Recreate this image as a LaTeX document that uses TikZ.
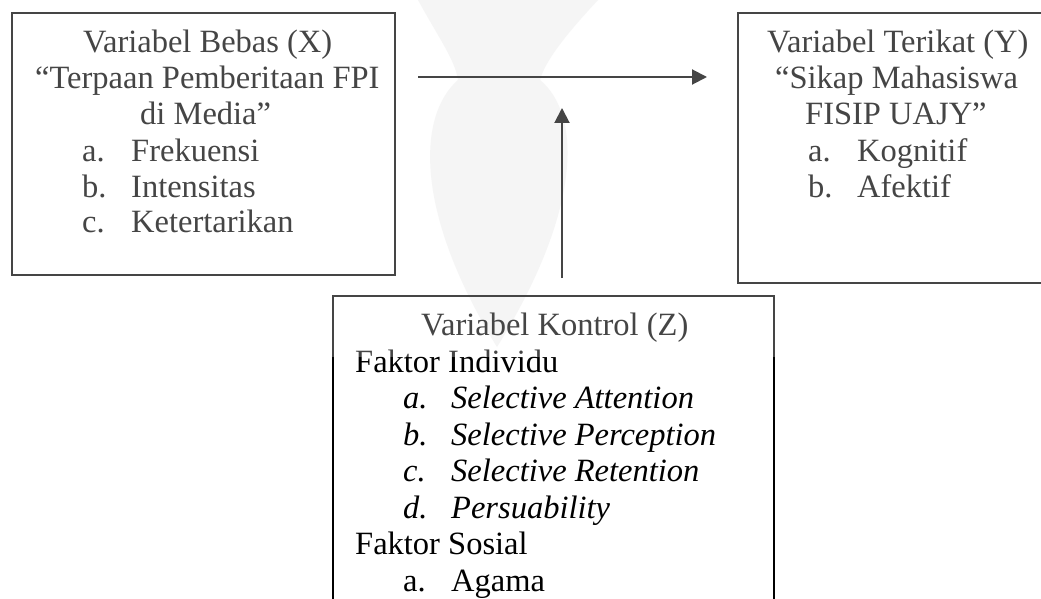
\documentclass[tikz,border=0pt]{standalone}
\usepackage{fontspec}
\setmainfont{Liberation Serif}
\usetikzlibrary{arrows.meta}
\tikzset{
  box/.style={draw=black, line width=1.6pt, rectangle, inner sep=0pt},
  txt/.style={anchor=base west, inner sep=0pt, font=\fontsize{32.5}{36}\selectfont},
  arr/.style={draw=black, line width=2pt, -{Triangle[length=15pt,width=15pt]}},
  wm/.style={fill=black!5},
}
\begin{document}
\begin{tikzpicture}[x=1pt,y=-1pt]
\useasboundingbox (0,0) rectangle (1041,599);
\fill[white] (0,0) rectangle (1041,599);
% faint watermark
\fill[wm] (418,0) .. controls (440,40) and (455,60) .. (458,80)
  .. controls (418,115) and (413,210) .. (497,347)
  .. controls (582,210) and (582,115) .. (540,80)
  .. controls (545,60) and (570,30) .. (598,0) -- cycle;
% boxes
\node[box, minimum width=383pt, minimum height=262pt] (X) at (203.5,144) {};
\node[box, minimum width=310pt, minimum height=270pt] (Y) at (893,148) {};
\node[box, minimum width=441pt, minimum height=330pt] (Z) at (553.5,461) {};
% left box text
\node[txt] (x1) at (83,53) {Variabel Bebas (X)};
\node[txt] (x2) at (35,88.5) {``Terpaan Pemberitaan FPI};
\node[txt] (x3) at (140,124.5) {di Media''};
\node[txt] (x4a) at (82,161) {a.};
\node[txt] (x4) at (131,161) {Frekuensi};
\node[txt] (x5a) at (82,197) {b.};
\node[txt] (x5) at (131,197) {Intensitas};
\node[txt] (x6a) at (82,232.5) {c.};
\node[txt] (x6) at (131,232.5) {Ketertarikan};
% right box text
\node[txt] (y1) at (767,53) {Variabel Terikat (Y)};
\node[txt] (y2) at (775,88.5) {``Sikap Mahasiswa};
\node[txt] (y3) at (805,124.5) {FISIP UAJY''};
\node[txt] (y4a) at (808,161) {a.};
\node[txt] (y4) at (857,161) {Kognitif};
\node[txt] (y5a) at (808,197) {b.};
\node[txt] (y5) at (857,197) {Afektif};
% bottom box text
\node[txt] (z1) at (421,335) {Variabel Kontrol (Z)};
\node[txt] (z2) at (355,372) {Faktor Individu};
\node[txt] (z3a) at (403,408) {\itshape a.};
\node[txt] (z3) at (451,408) {\itshape Selective Attention};
\node[txt] (z4a) at (403,445) {\itshape b.};
\node[txt] (z4) at (451,445) {\itshape Selective Perception};
\node[txt] (z5a) at (403,481.5) {\itshape c.};
\node[txt] (z5) at (451,481.5) {\itshape Selective Retention};
\node[txt] (z6a) at (403,518) {\itshape d.};
\node[txt] (z6) at (451,518) {\itshape Persuability};
\node[txt] (z7) at (355,554.5) {Faktor Sosial};
\node[txt] (z8a) at (403,591) {a.};
\node[txt] (z8) at (451,591) {Agama};
% arrows
\coordinate (hs) at (418,77);
\coordinate (he) at (707,77);
\coordinate (vs) at (562,278);
\coordinate (ve) at (562,108);
\draw[arr] (hs) -- (he);
\draw[arr] (vs) -- (ve);
% faded upper region (scan)
\fill[white, opacity=0.27] (0,0) rectangle (1041,357);
\end{tikzpicture}
\end{document}
